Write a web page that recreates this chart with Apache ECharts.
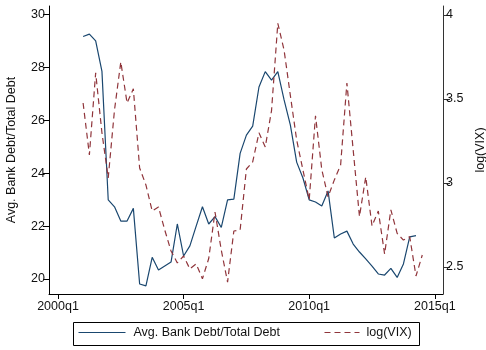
<!DOCTYPE html>
<html>
<head>
<meta charset="utf-8">
<script src="https://cdn.jsdelivr.net/npm/echarts@6/dist/echarts.min.js"></script>
<style>
  html, body { margin: 0; padding: 0; background: #fff; }
  #chart { width: 486px; height: 350px; }
</style>
</head>
<body>
<div id="chart"></div>
<script>
// Quarters covered by the two series (bank-debt share ends one quarter earlier)
const quarters = [
  '2001q1','2001q2','2001q3','2001q4','2002q1','2002q2','2002q3','2002q4',
  '2003q1','2003q2','2003q3','2003q4','2004q1','2004q2','2004q3','2004q4',
  '2005q1','2005q2','2005q3','2005q4','2006q1','2006q2','2006q3','2006q4',
  '2007q1','2007q2','2007q3','2007q4','2008q1','2008q2','2008q3','2008q4',
  '2009q1','2009q2','2009q3','2009q4','2010q1','2010q2','2010q3','2010q4',
  '2011q1','2011q2','2011q3','2011q4','2012q1','2012q2','2012q3','2012q4',
  '2013q1','2013q2','2013q3','2013q4','2014q1','2014q2','2014q3'
];

// Average bank debt / total debt (%), 2001q1 - 2014q2
const bankDebtShare = [
  29.17, 29.26, 29.00, 27.85, 22.99, 22.73, 22.19, 22.19,
  22.67, 19.81, 19.74, 20.82, 20.34, 20.49, 20.64, 22.08,
  20.87, 21.25, 22.00, 22.73, 22.08, 22.36, 21.95, 22.99,
  23.02, 24.75, 25.44, 25.78, 27.26, 27.84, 27.52, 27.84,
  26.77, 25.82, 24.42, 23.82, 22.99, 22.91, 22.76, 23.33,
  21.55, 21.70, 21.81, 21.32, 21.02, 20.76, 20.49, 20.19,
  20.15, 20.40, 20.06, 20.57, 21.59, 21.64
];

// log(VIX), 2001q1 - 2014q3
const logVix = [
  3.476, 3.167, 3.655, 3.298, 3.030, 3.435, 3.720, 3.476,
  3.560, 3.089, 2.988, 2.833, 2.857, 2.720, 2.595, 2.524,
  2.565, 2.488, 2.518, 2.430, 2.550, 2.827, 2.600, 2.410,
  2.714, 2.720, 3.083, 3.125, 3.298, 3.214, 3.430, 3.950,
  3.790, 3.520, 3.256, 3.077, 2.900, 3.400, 3.080, 2.917,
  3.018, 3.107, 3.595, 3.196, 2.800, 3.036, 2.744, 2.833,
  2.577, 2.840, 2.700, 2.660, 2.680, 2.446, 2.571
];

// Axis tick labels
const xTickLabels = ['2000q1', '2005q1', '2010q1', '2015q1'];
const leftTicks = [20, 22, 24, 26, 28, 30];
const rightTicks = [2.5, 3, 3.5, 4];

const seriesNames = ['Avg. Bank Debt/Total Debt', 'log(VIX)'];

// quarter label -> quarters elapsed since 2000q1
function quarterIndex(label) {
  const y = parseInt(label.slice(0, 4), 10);
  const q = parseInt(label.slice(5), 10);
  return (y - 2000) * 4 + (q - 1);
}

const xTickValues = xTickLabels.map(quarterIndex);
const xTickText = {};
xTickLabels.forEach(function (l) { xTickText[quarterIndex(l)] = l; });

const bankPoints = bankDebtShare.map(function (v, i) { return [quarterIndex(quarters[i]), v]; });
const vixPoints = logVix.map(function (v, i) { return [quarterIndex(quarters[i]), v]; });

const font = '"Liberation Sans", Arial, sans-serif';
const axisColor = '#000';
const labelColor = '#111';

const chart = echarts.init(document.getElementById('chart'), null, { renderer: 'canvas' });

// legend keys: plain thin line samples, no marker dot
const legendKey = { opacity: 0, borderWidth: 0 };
const legendLine = { width: 1 };

chart.setOption({
  animation: false,
  backgroundColor: '#fff',
  textStyle: { fontFamily: font },
  grid: { left: 49, right: 43, top: 6, bottom: 56, containLabel: false, outerBoundsMode: 'none' },
  xAxis: {
    type: 'value',
    min: -1.43,
    max: 61.3,
    splitLine: { show: false },
    axisLine: { show: true, onZero: false, lineStyle: { color: axisColor, width: 1 } },
    axisTick: { show: true, length: 5, customValues: xTickValues, lineStyle: { color: axisColor } },
    axisLabel: {
      customValues: xTickValues,
      formatter: function (v) { return xTickText[v] || ''; },
      color: labelColor, fontSize: 12.5, fontFamily: font, margin: 6
    }
  },
  yAxis: [
    {
      type: 'value',
      position: 'left',
      min: 19.433,
      max: 30.322,
      name: seriesNames[0],
      nameLocation: 'middle',
      nameRotate: 90,
      nameGap: 31,
      nameTextStyle: { color: labelColor, fontSize: 12.5, fontFamily: font },
      splitLine: { show: false },
      axisLine: { show: true, onZero: false, lineStyle: { color: axisColor, width: 1 } },
      axisTick: { show: true, length: 6, customValues: leftTicks, lineStyle: { color: axisColor } },
      axisLabel: {
        customValues: leftTicks,
        color: labelColor, fontSize: 12.5, fontFamily: font, margin: 4
      }
    },
    {
      type: 'value',
      position: 'right',
      min: 2.339,
      max: 4.053,
      name: seriesNames[1],
      nameLocation: 'middle',
      nameRotate: 90,
      nameGap: 29,
      nameTextStyle: { color: labelColor, fontSize: 12.5, fontFamily: font },
      splitLine: { show: false },
      axisLine: { show: true, onZero: false, lineStyle: { color: '#333', width: 1 } },
      axisTick: { show: true, length: 7, customValues: rightTicks, lineStyle: { color: '#333' } },
      axisLabel: {
        customValues: rightTicks,
        color: labelColor, fontSize: 12.5, fontFamily: font, margin: 3
      }
    }
  ],
  legend: [
    {
      data: [seriesNames[0]],
      left: 78, top: 326,
      padding: 0,
      itemWidth: 47, itemHeight: 14,
      itemStyle: legendKey,
      lineStyle: legendLine,
      textStyle: { color: labelColor, fontSize: 12.5, fontFamily: font, padding: [0, 0, 0, 3] },
      selectedMode: false
    },
    {
      data: [seriesNames[1]],
      left: 324, top: 326,
      padding: 0,
      itemWidth: 35, itemHeight: 14,
      itemStyle: legendKey,
      lineStyle: legendLine,
      textStyle: { color: labelColor, fontSize: 12.5, fontFamily: font, padding: [0, 0, 0, 2] },
      selectedMode: false
    }
  ],
  graphic: [
    {
      type: 'rect',
      shape: { x: 73.5, y: 322.5, width: 346, height: 23 },
      style: { fill: 'none', stroke: '#000', lineWidth: 1 },
      silent: true
    }
  ],
  series: [
    {
      name: seriesNames[0],
      type: 'line',
      yAxisIndex: 0,
      data: bankPoints,
      symbol: 'none',
      lineStyle: { color: '#1a476f', width: 1.2 },
      itemStyle: { color: '#1a476f' }
    },
    {
      name: seriesNames[1],
      type: 'line',
      yAxisIndex: 1,
      data: vixPoints,
      symbol: 'none',
      lineStyle: { color: '#90353b', width: 1.2, type: [6, 4] },
      itemStyle: { color: '#90353b' }
    }
  ]
});
</script>
</body>
</html>
